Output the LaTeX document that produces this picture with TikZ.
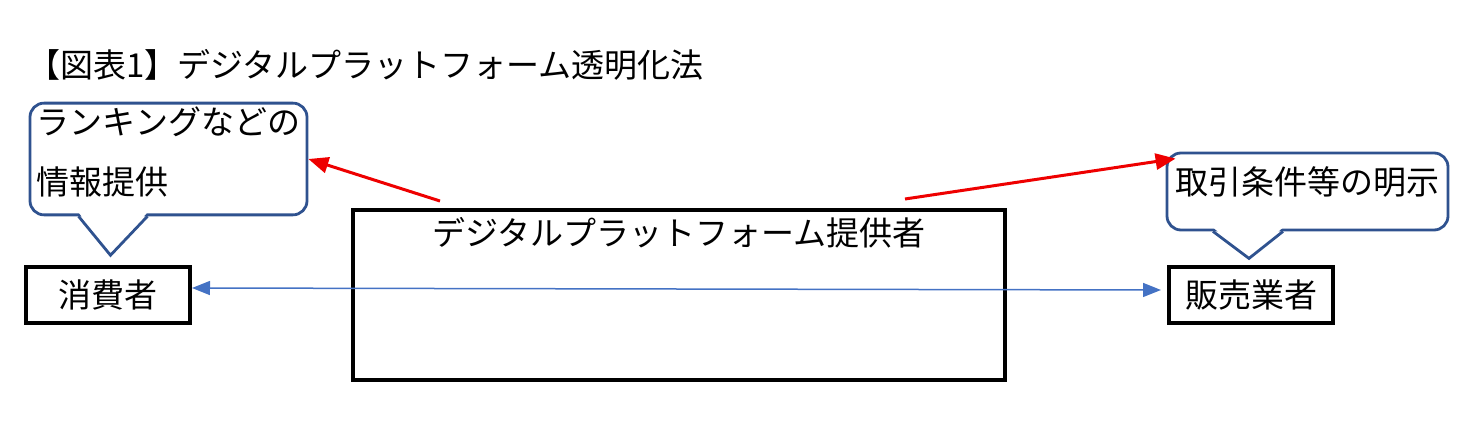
\documentclass[tikz,border=0pt]{standalone}
\usepackage{fontspec}
\setmainfont{Noto Sans CJK JP}
\usepackage{xcolor}
\usetikzlibrary{arrows.meta}
\definecolor{callblue}{HTML}{2F528F}
\definecolor{linkblue}{HTML}{4472C4}
\definecolor{markred}{HTML}{EE0000}

\begin{document}
\begin{tikzpicture}[x=0.5pt, y=-0.5pt,
    every node/.style={font=\fontsize{16.5}{30}\selectfont},
    actor/.style={draw, line width=2pt, minimum width=82pt, minimum height=28pt, inner sep=0pt},
    callbox/.style={draw=callblue, line width=1.4pt, rounded corners=7pt, fill=white, inner sep=2pt},
    callside/.style={draw=callblue, line width=1.4pt},
    redarrow/.style={-{Triangle[length=10pt, width=8pt]}, markred, line width=1.5pt},
    bluearrow/.style={{Triangle[length=9pt, width=7pt]}-{Triangle[length=9pt, width=7pt]}, linkblue, line width=0.75pt}]
    \useasboundingbox (0,0) rectangle (1477,427);
    \node[anchor=base west] (title) at (20, 77.5) {【図表1】デジタルプラットフォーム透明化法};
    \node[callbox, align=left, minimum width=138.5pt, minimum height=54pt, text depth=8pt] (lcall) at (168.5, 159) {ランキングなどの\\情報提供};
    \node[callbox, minimum width=140.5pt, minimum height=38.5pt, text depth=10.5pt] (rcall) at (1307.5, 191.5) {取引条件等の明示};
    \fill[white] ([xshift=-45pt, yshift=2pt]lcall.south) -- ([xshift=-29pt, yshift=-19.5pt]lcall.south) -- ([xshift=-10.5pt, yshift=2pt]lcall.south) -- cycle;
    \draw[callside] ([xshift=-45pt]lcall.south) -- ([xshift=-29pt, yshift=-19.5pt]lcall.south) -- ([xshift=-10.5pt]lcall.south);
    \fill[white] ([xshift=-47.25pt, yshift=2pt]rcall.south) -- ([xshift=-29.25pt, yshift=-13.5pt]rcall.south) -- ([xshift=-12.25pt, yshift=2pt]rcall.south) -- cycle;
    \draw[callside] ([xshift=-47.25pt]rcall.south) -- ([xshift=-29.25pt, yshift=-13.5pt]rcall.south) -- ([xshift=-12.25pt]rcall.south);
    \node[actor] (cons) at (108, 295) {消費者};
    \node[actor] (sell) at (1251, 295) {販売業者};
    \node[actor, minimum width=326pt, minimum height=85pt, label={[anchor=north, yshift=-1pt]north:デジタルプラットフォーム提供者}] (plat) at (679, 295) {};
    \draw[bluearrow] ([yshift=3.5pt]cons.east) -- ([xshift=-3pt, yshift=2.5pt]sell.west);
    \draw[redarrow] ([xshift=44.5pt, yshift=3.5pt]plat.north west) -- (lcall.east);
    \draw[redarrow] ([xshift=-51pt, yshift=4.5pt]plat.north east) -- ([xshift=5pt, yshift=-3.5pt]rcall.north west);
\end{tikzpicture}
\end{document}
